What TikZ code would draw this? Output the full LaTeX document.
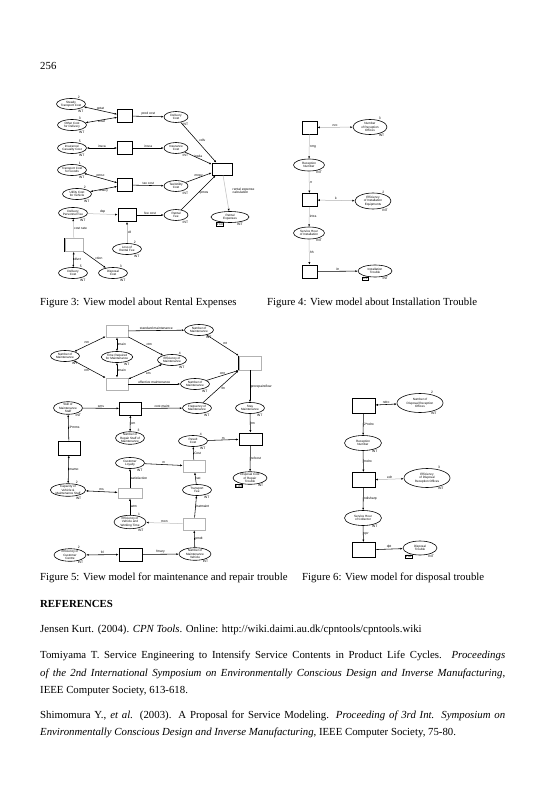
\documentclass[tikz,border=0pt]{standalone}
\usepackage{fontspec}
\setmainfont{Liberation Serif}
\setsansfont{Liberation Sans}
\usetikzlibrary{positioning,arrows.meta,shapes.geometric}

\begin{document}
\begin{tikzpicture}[
  x=1pt, y=-1pt,
  font=\sffamily,
  >={Latex[length=2.4pt,width=2pt]},
  place/.style={draw, ellipse, line width=0.6pt, minimum width=29pt, minimum height=11pt, inner sep=0pt, align=center, font=\fontsize{3.1}{3.3}\selectfont\sffamily},
  trans/.style={draw, line width=0.8pt, minimum width=15pt, minimum height=13pt, inner sep=0pt},
  ghost/.style={trans, draw=black!30},
  flow/.style={->, line width=0.55pt},
  dflow/.style={<->, line width=0.55pt},
  faint/.style={-{Latex[length=2.4pt,width=2pt,color=black]}, line width=0.5pt, draw=black!25},
  dfaint/.style={{Latex[length=2.4pt,width=2pt,color=black]}-{Latex[length=2.4pt,width=2pt,color=black]}, line width=0.5pt, draw=black!30},
  lbl/.style={font=\fontsize{3.3}{3.5}\selectfont\sffamily, inner sep=0.5pt},
  typ/.style={label={[lbl, anchor=north west]-40:INT}},
  cnt/.style={label={[lbl, anchor=south west]40:#1}},
  initb/.style={draw, lbl, line width=0.4pt, inner sep=0.5pt},
  initm/.style={label={[initb, anchor=north east]-140:#1}},
  txt/.style={font=\fontsize{10.8}{12}\selectfont, anchor=base west, inner sep=0pt}
]
\useasboundingbox (0,0) rectangle (545,800);
\fill[white] (0,0) rectangle (545,800);

% Figure 3: rental expenses
\node[place, cnt=2, typ] (stc) at (71,104) {Steady\\Transport Cost};
\node[place, cnt=3, typ] (ocd) at (72,125) {Other Cost\\for Delivery};
\node[place, cnt=5, typ] (icc) at (72,148) {Insurance/\\Casualty Cost};
\node[place, cnt=1, typ] (tcg) at (72,170) {Transport Cost\\for Goods};
\node[place, cnt=2, typ] (ucv) at (77,194) {Utility Cost\\for Vehicle};
\node[place, typ] (dpf) at (73,213) {Delivery\\Personnel Fee};
\node[trans] (tdc) at (125,116) {};
\node[trans] (tic) at (125,148) {};
\node[trans] (ttx) at (125,185) {};
\node[trans, minimum width=18pt] (tfe) at (127,215) {};
\node[trans, minimum width=20pt, minimum height=12pt] (tsum) at (222,169) {};
\node[place, typ, minimum width=24pt] (dlc) at (176,117) {Delivery\\Cost};
\node[place, typ, minimum width=24pt] (isc) at (176,148) {Insurance\\Cost};
\node[place, typ, minimum width=24pt] (txc) at (176,186) {Tax/Utility\\Cost};
\node[place, typ, minimum width=24pt] (rfe) at (176,215) {Rental\\Fee};
\node[place, typ, initm=1'13, minimum width=38pt] (rex) at (230,217) {Rental\\Expenses};
\node[place, cnt=2, typ] (lrf) at (127,249) {Loss of\\Rental Fee};
\node[place, cnt=5, typ] (dlv) at (73,273) {Delivery\\Cost};
\node[place, cnt=3, typ] (dsc) at (113,273) {Disposal\\Cost};
\node[ghost, minimum width=18pt] (tdv) at (74,245) {};
\draw[line width=0.8pt] (tdv.north west) -- (tdv.south west);
\node[lbl, align=left, anchor=north west] (tsumn) at (232,187) {rental expense\\calculation};
\draw[dflow] (stc) -- node[lbl, above] {gotat} (tdc);
\draw[dflow] (ocd) -- node[lbl, below] {sctat} (tdc);
\draw[flow] (tdc) -- node[lbl, above] {prod cost} (dlc);
\draw[flow] (dlc) -- node[lbl, above right] {cdlv} (tsum);
\draw[dflow] (icc) -- node[lbl, above] {insca} (tic);
\draw[flow] (tic) -- node[lbl, above] {insca} (isc);
\draw[flow] (isc) -- node[lbl, above] {insda} (tsum);
\draw[dflow] (tcg) -- node[lbl, above] {pmsc} (ttx);
\draw[dflow] (ucv) -- node[lbl, below] {usecy} (ttx);
\draw[flow] (ttx) -- node[lbl, above] {tax cost} (txc);
\draw[flow] (txc) -- node[lbl, above] {mnpy} (tsum);
\draw[flow] (rfe) -- node[lbl, right] {rpmos} (tsum);
\draw[faint] (tsum) -- (rex);
\draw[flow] (tfe) -- node[lbl, above] {fee cost} (rfe);
\draw[faint] (dpf) -- node[lbl, above] {dsp} (tfe);
\draw[faint] (lrf) -- node[lbl, right] {c8} (tfe);
\draw[faint] (tdv) -- node[lbl, right] {cost rate} (dpf);
\draw[dflow] (tdv) -- node[lbl, right] {dlvct} (dlv);
\draw[flow] (tdv) -- node[lbl, above right] {ction} (dsc);

% Figure 4: installation trouble
\node[trans] (irc) at (309.5,127.5) {};
\node[place, cnt=3, typ, minimum width=34pt, minimum height=15pt] (nro) at (370,127) {Number\\of Reception\\Offices};
\node[place, typ, minimum width=31pt, minimum height=12pt] (rcn) at (309,165) {Reception\\Number};
\node[trans] (iin) at (309.5,200) {};
\node[place, cnt=2, typ, minimum width=36pt, minimum height=16pt] (eie) at (373,201) {Efficiency\\of Installation\\Equipments};
\node[place, typ, minimum width=31pt, minimum height=12pt] (shi) at (309,233) {Service Hour\\of Installation};
\node[trans] (itb) at (309.5,271.5) {};
\node[place, typ, initm=1'3, minimum width=34pt, minimum height=12pt] (itr) at (375,271) {Installation\\Trouble};
\draw[dfaint] (irc) -- node[lbl, above] {nro} (nro);
\draw[faint] (irc) -- node[lbl, right] {nrrg} (rcn);
\draw[faint] (rcn) -- node[lbl, right] {rr} (iin);
\draw[dfaint] (iin) -- node[lbl, above] {k} (eie);
\draw[faint] (iin) -- node[lbl, right] {intra} (shi);
\draw[faint] (shi) -- node[lbl, right] {hh} (itb);
\draw[flow] (itb) -- node[lbl, above] {itr} (itr);

% Figure 5: maintenance and repair
\node[ghost, minimum width=22pt, minimum height=12pt] (mst) at (117,331) {};
\node[place, typ] (nmt) at (199,330) {Number of\\Maintenance};
\node[place, typ] (nmn) at (65,356) {Number of\\Maintenance};
\node[place, typ] (trm) at (117,357) {Time Required\\for Maintenance};
\node[place, cnt=4, typ] (efm) at (172,360) {Efficiency of\\Maintenance};
\node[ghost, minimum width=22pt, minimum height=12pt] (mef) at (117,384) {};
\node[place, typ] (nem) at (195,384) {Number of\\Maintenance};
\node[ghost, minimum width=22pt, minimum height=14pt] (mrp) at (250,363) {};
\draw[line width=0.8pt] (mrp.north west) -- (mrp.south west);
\node[place, typ] (stm) at (250,408) {Stay\\Maintenance};
\node[trans, minimum width=22pt, minimum height=13pt] (mcm) at (130.5,408.5) {};
\node[place, typ] (skl) at (68,408) {Skill of\\Maintenance\\Staff};
\node[place, typ] (frm) at (197,408) {Frequency of\\Maintenance};
\node[place, cnt=3] (nrs) at (130,438) {Number of\\Repair Staff of\\Maintenance};
\node[trans, minimum width=22pt, minimum height=14pt] (mam) at (69,448) {};
\node[place, cnt=4, typ] (rsc) at (193,441) {Result\\Cost};
\node[trans, minimum width=23pt, minimum height=12pt] (mrc) at (250.5,439) {};
\node[place, typ, initm=1'23, minimum width=34pt] (dct) at (250,478) {Disposal Cost\\of Repair\\Trouble};
\node[ghost, minimum width=22pt, minimum height=12pt] (mcl) at (194,466) {};
\node[place, typ] (csl) at (130,463) {Customer\\Loyalty};
\node[ghost, minimum width=24pt, minimum height=10pt] (mws) at (130,493) {};
\node[place, cnt=2, typ, minimum width=32pt] (cvm) at (68,490) {Capacity of\\Vehicle \&\\Maintenance Staff};
\node[place, typ] (trf) at (197,490) {Transport\\Fee};
\node[place, cnt=1, typ, minimum width=32pt] (evw) at (130,522) {Efficiency of\\Vehicle and\\Working Time};
\node[ghost, minimum width=22pt, minimum height=12pt] (mtf) at (194,524) {};
\node[place, typ, minimum width=32pt] (nmv) at (195,554) {Number of\\Maintenance\\Vehicle};
\node[trans, minimum width=23pt, minimum height=13pt] (mvh) at (130.5,554.5) {};
\node[place, cnt=2, typ, minimum width=32pt] (ecc) at (70,555) {Efficiency of\\Customer\\Centre};
\draw[flow] (mst) -- node[lbl, above] {standard maintenance} (nmt);
\draw[dflow] (nmn) -- node[lbl, above left] {nm} (mst);
\draw[dflow] (nmn) -- node[lbl, below left] {nm} (mef);
\draw[dflow] (mst) -- node[lbl, right] {tmain} (trm);
\draw[dflow] (trm) -- node[lbl, right] {tmain} (mef);
\draw[flow] (mst) -- node[lbl, above right] {ctm} (efm);
\draw[dflow] (efm) -- node[lbl, below right] {em} (mef);
\draw[flow] (mef) -- node[lbl, above] {effective maintenance} (nem);
\draw[flow] (nmt) -- node[lbl, above right] {mt} (mrp.north west);
\draw[flow] (nem) -- node[lbl, above] {cmr} (mrp.south west);
\draw[flow] (frm) -- node[lbl, below right] {fm} (mrp.south west);
\draw[flow] (mrp) -- node[lbl, right] {prorepairsflow} (stm);
\draw[flow] (skl) -- node[lbl, above] {sms} (mcm);
\draw[flow] (mcm) -- node[lbl, above] {cost maint} (frm);
\draw[dflow] (mcm) -- node[lbl, right] {cm} (nrs);
\draw[flow] (mam) -- node[lbl, right] {3*mms} (skl);
\draw[dflow] (mam) -- node[lbl, right] {mamo} (cvm);
\draw[flow] (stm) -- node[lbl, right] {rm} (mrc);
\draw[flow] (rsc) -- node[lbl, above] {m} (mrc);
\draw[flow] (mrc) -- node[lbl, right] {refcost} (dct);
\draw[flow] (mcl) -- node[lbl, right] {Cost} (rsc);
\draw[flow] (csl) -- node[lbl, above] {m} (mcl);
\draw[flow] (mws) -- node[lbl, right] {satisfaction} (csl);
\draw[dflow] (cvm) -- node[lbl, above] {ms} (mws);
\draw[flow] (evw) -- node[lbl, right] {wtm} (mws);
\draw[flow] (trf) -- node[lbl, right] {sst} (mcl);
\draw[flow] (mtf) -- node[lbl, right] {tratmaint} (trf);
\draw[faint] (mtf) -- node[lbl, above] {mon} (evw);
\draw[flow] (nmv) -- node[lbl, right] {pmdt} (mtf);
\draw[flow] (mvh) -- node[lbl, above] {fmary} (nmv);
\draw[dflow] (ecc) -- node[lbl, above] {fcl} (mvh);

% Figure 6: disposal trouble
\node[trans, minimum width=23pt, minimum height=15pt] (dro) at (363.5,405.5) {};
\node[place, cnt=2, typ, minimum width=46pt, minimum height=19pt] (ndr) at (420,403) {Number of\\Disposal Reception\\Offices};
\node[place, typ, minimum width=37pt, minimum height=15pt] (drn) at (363,443) {Reception\\Number};
\node[trans, minimum width=23pt, minimum height=15pt] (drc) at (363.5,480) {};
\node[place, cnt=3, typ, minimum width=46pt, minimum height=19pt] (edr) at (427,478) {Efficiency\\of Disposal\\Reception Offices};
\node[place, typ, minimum width=37pt, minimum height=15pt] (shc) at (363,518) {Service Hour\\of Collector};
\node[trans, minimum width=23pt, minimum height=15pt] (dcl) at (363.5,550) {};
\node[place, typ, initm=1'40, minimum width=34pt, minimum height=14pt] (dtr) at (420,548) {Disposal\\Trouble};
\draw[dflow] (ndr) -- node[lbl, above] {ndro} (dro);
\draw[flow] (dro) -- node[lbl, right] {2*ndro} (drn);
\draw[flow] (drn) -- node[lbl, right] {rndro} (drc);
\draw[dfaint] (drc) -- node[lbl, above] {edr} (edr);
\draw[flow] (drc) -- node[lbl, right] {ndisharp} (shc);
\draw[flow] (shc) -- node[lbl, right] {cpr} (dcl);
\draw[flow] (dcl) -- node[lbl, above] {dpt} (dtr);

% page text
\node[txt] (pgno) at (40,69.5) {256};
\node[txt] (cap3) at (40,305.5) {Figure 3: View model about Rental Expenses};
\node[txt] (cap4) at (267,305.5) {Figure 4: View model about Installation Trouble};
\node[txt] (cap5) at (40,580.5) {Figure 5: View model for maintenance and repair trouble};
\node[txt] (cap6) at (302,580.5) {Figure 6: View model for disposal trouble};
\node[txt, font=\fontsize{10.8}{12}\selectfont\bfseries] (refs) at (40,607.5) {REFERENCES};
\node[txt] (ref1) at (40,632.5) {Jensen Kurt. (2004). \textit{CPN Tools}. Online: http://wiki.daimi.au.dk/cpntools/cpntools.wiki};
\node[txt] (ref2a) at (40,658.5) {\makebox[465pt][s]{Tomiyama T. Service Engineering to Intensify Service Contents in Product Life Cycles. \textit{Proceedings}}};
\node[txt] (ref2b) at (40,676.5) {\makebox[465pt][s]{\textit{of the 2nd International Symposium on Environmentally Conscious Design and Inverse Manufacturing},}};
\node[txt] (ref2c) at (40,693.5) {IEEE Computer Society, 613-618.};
\node[txt] (ref3a) at (40,718.5) {\makebox[465pt][s]{Shimomura Y., \textit{et al.} (2003). A Proposal for Service Modeling. \textit{Proceeding of 3rd Int. Symposium on}}};
\node[txt] (ref3b) at (40,735.5) {\textit{Environmentally Conscious Design and Inverse Manufacturing}, IEEE Computer Society, 75-80.};
\end{tikzpicture}
\end{document}
